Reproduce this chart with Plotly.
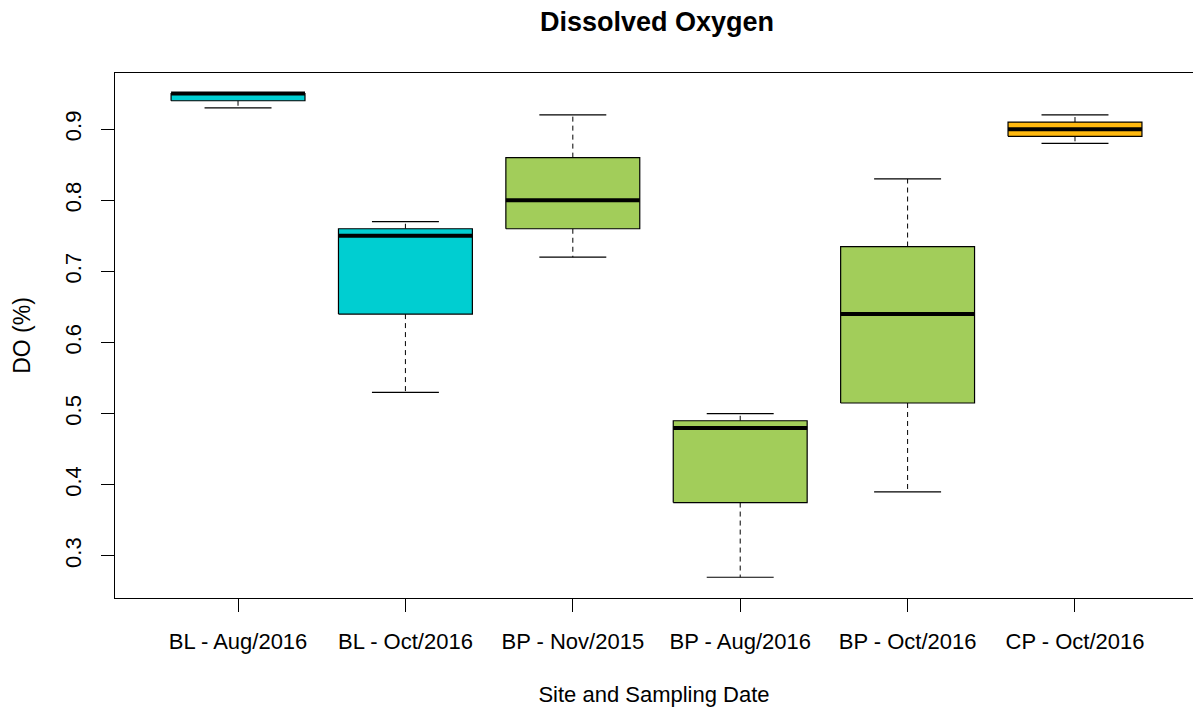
import plotly.graph_objects as go

# site / sampling date groups
categories = ["BL - Aug/2016", "BL - Oct/2016", "BP - Nov/2015",
              "BP - Aug/2016", "BP - Oct/2016", "CP - Oct/2016"]

# box statistics (DO %)
lower = [0.93, 0.53, 0.72, 0.27, 0.39, 0.88]
q1 = [0.94, 0.64, 0.76, 0.375, 0.515, 0.89]
median = [0.95, 0.75, 0.80, 0.48, 0.64, 0.90]
q3 = [0.95, 0.76, 0.86, 0.49, 0.735, 0.91]
upper = [0.95, 0.77, 0.92, 0.50, 0.83, 0.92]

colors = ["#00CED1", "#00CED1", "#A2CD5A", "#A2CD5A", "#A2CD5A", "#FFB90F"]

FONT = "Arial, Liberation Sans, sans-serif"
BOX_HALF = 0.4
CAP_HALF = 0.2

fig = go.Figure()

for i, cat in enumerate(categories):
    x = i + 1
    # dashed whiskers
    fig.add_trace(go.Scatter(
        x=[x, x, None, x, x], y=[q3[i], upper[i], None, q1[i], lower[i]],
        mode="lines", line=dict(color="black", width=1, dash="5px,4px"),
        hoverinfo="skip", showlegend=False))
    # box
    fig.add_trace(go.Scatter(
        x=[x - BOX_HALF, x + BOX_HALF, x + BOX_HALF, x - BOX_HALF, x - BOX_HALF],
        y=[q1[i], q1[i], q3[i], q3[i], q1[i]],
        mode="lines", fill="toself", fillcolor=colors[i],
        line=dict(color="black", width=1.2), hoverinfo="skip", showlegend=False))
    # median
    fig.add_trace(go.Scatter(
        x=[x - BOX_HALF, x + BOX_HALF], y=[median[i], median[i]],
        mode="lines", line=dict(color="black", width=4),
        hoverinfo="skip", showlegend=False))
    # staples
    fig.add_trace(go.Scatter(
        x=[x - CAP_HALF, x + CAP_HALF, None, x - CAP_HALF, x + CAP_HALF],
        y=[upper[i], upper[i], None, lower[i], lower[i]],
        mode="lines", line=dict(color="black", width=1.2),
        hoverinfo="skip", showlegend=False))

fig.update_layout(
    width=1193, height=707,
    margin=dict(l=115, r=0, t=73, b=109),
    paper_bgcolor="white", plot_bgcolor="white",
    font=dict(family=FONT, size=22, color="black"),
    title=dict(text="<b>Dissolved Oxygen</b>", x=(115 + 1199) / 2 / 1193, xanchor="center",
               y=1 - 22 / 707, yanchor="middle", yref="container",
               font=dict(family=FONT, size=27, color="black")),
    xaxis=dict(range=[0.265, 6.705], tickvals=list(range(1, len(categories) + 1)),
               ticktext=categories, ticks="outside", ticklen=13, tickwidth=1,
               tickcolor="black", showline=True, linecolor="black", linewidth=1.2,
               mirror=True, showgrid=False, zeroline=False, ticklabelstandoff=10,
               title=dict(text="Site and Sampling Date", standoff=36, font=dict(size=22))),
    yaxis=dict(range=[0.2408, 0.979], tickvals=[0.3, 0.4, 0.5, 0.6, 0.7, 0.8, 0.9],
               ticktext=["0.3", "0.4", "0.5", "0.6", "0.7", "0.8", "0.9"],
               tickangle=-90, ticks="outside", ticklen=13, tickwidth=1,
               tickcolor="black", showline=True, linecolor="black", linewidth=1.2,
               showgrid=False, zeroline=False, ticklabelstandoff=11,
               title=dict(text="DO (%)", standoff=24, font=dict(size=23))),
)

fig.write_html("out.html", config={"displayModeBar": False},
               post_script="document.body.style.margin='0';")
